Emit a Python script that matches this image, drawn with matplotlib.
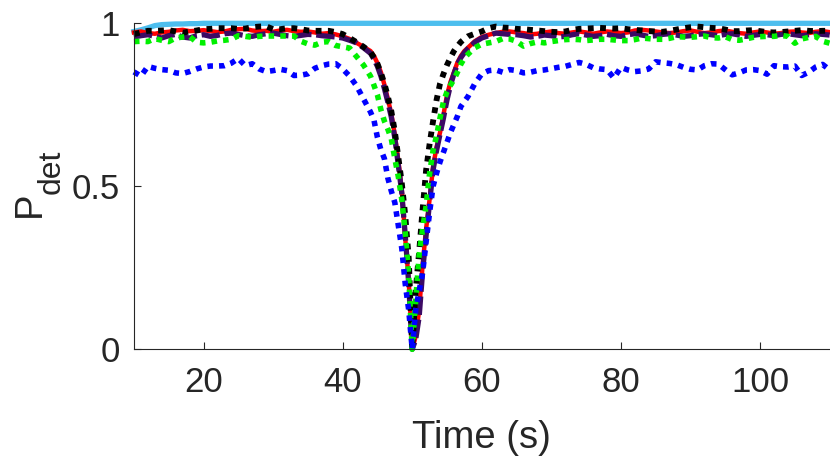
import numpy as np
import matplotlib
matplotlib.use("Agg")
import matplotlib.pyplot as plt

plt.rcParams['font.family'] = ['Liberation Sans', 'DejaVu Sans']

# time axis: 1 s steps, 0.5 s steps around the dip
time = np.concatenate([np.arange(10, 44), np.arange(44, 58, 0.5), np.arange(58, 111)])

# DATA ########################################################################

light_blue = [0.975, 0.980, 0.986, 0.993, 0.996, 0.997, 0.998, 0.998, 0.999, 0.999,
              1.0, 1.0, 1.0, 1.0, 1.0, 1.0, 1.0, 1.0, 1.0, 1.0, 1.0, 1.0, 1.0, 1.0,
              1.0, 1.0, 1.0, 1.0, 1.0, 1.0, 1.0, 1.0, 1.0, 1.0,
              # dip
              1.0, 1.0, 1.0, 1.0, 1.0, 1.0, 1.0, 1.0, 1.0, 1.0, 1.0, 1.0, 1.0, 1.0,
              1.0, 1.0, 1.0, 1.0, 1.0, 1.0, 1.0, 1.0, 1.0, 1.0, 1.0, 1.0, 1.0, 1.0,
              # right
              1.0, 1.0, 1.0, 1.0, 1.0, 1.0, 1.0, 1.0, 1.0, 1.0, 1.0, 1.0, 1.0, 1.0,
              1.0, 1.0, 1.0, 1.0, 1.0, 1.0, 1.0, 1.0, 1.0, 1.0, 1.0, 1.0, 1.0, 1.0,
              1.0, 1.0, 1.0, 1.0, 1.0, 1.0, 1.0, 1.0, 1.0, 1.0, 1.0, 1.0, 1.0, 1.0,
              1.0, 1.0, 1.0, 1.0, 1.0, 1.0, 1.0, 1.0, 1.0, 1.0, 1.0]

red = [0.972, 0.975, 0.970, 0.968, 0.972, 0.974, 0.978, 0.980, 0.976, 0.977,
       0.979, 0.976, 0.973, 0.975, 0.980, 0.982, 0.983, 0.978, 0.976, 0.977,
       0.974, 0.978, 0.980, 0.976, 0.974, 0.975, 0.972, 0.968, 0.970, 0.966,
       0.960, 0.952, 0.940, 0.928,
       # dip
       0.915, 0.900, 0.878, 0.850, 0.812, 0.768, 0.722, 0.658, 0.580, 0.490,
       0.340, 0.210, 0.0, 0.040, 0.120, 0.260, 0.370, 0.460, 0.560, 0.620,
       0.665, 0.720, 0.780, 0.820, 0.850, 0.880, 0.900, 0.915,
       # right
       0.925, 0.945, 0.958, 0.965, 0.970, 0.974, 0.975, 0.972, 0.970, 0.966,
       0.968, 0.972, 0.975, 0.970, 0.968, 0.972, 0.975, 0.972, 0.968, 0.972,
       0.975, 0.973, 0.970, 0.972, 0.978, 0.980, 0.978, 0.975, 0.972, 0.970,
       0.972, 0.976, 0.978, 0.974, 0.970, 0.972, 0.976, 0.978, 0.974, 0.970,
       0.968, 0.972, 0.975, 0.972, 0.968, 0.970, 0.974, 0.975, 0.972, 0.970,
       0.974, 0.976, 0.973]

purple = [0.958, 0.962, 0.965, 0.960, 0.955, 0.962, 0.966, 0.958, 0.955, 0.962,
          0.965, 0.960, 0.963, 0.968, 0.970, 0.966, 0.962, 0.960, 0.965, 0.968,
          0.970, 0.966, 0.962, 0.960, 0.963, 0.966, 0.965, 0.962, 0.960, 0.958,
          0.955, 0.948, 0.940, 0.925,
          # dip
          0.908, 0.890, 0.868, 0.838, 0.800, 0.758, 0.712, 0.648, 0.565, 0.480,
          0.350, 0.200, 0.0, 0.030, 0.100, 0.240, 0.350, 0.450, 0.550, 0.610,
          0.660, 0.710, 0.765, 0.810, 0.845, 0.875, 0.895, 0.910,
          # right
          0.922, 0.942, 0.955, 0.962, 0.970, 0.968, 0.966, 0.965, 0.962, 0.958,
          0.960, 0.964, 0.962, 0.958, 0.960, 0.965, 0.968, 0.964, 0.960, 0.962,
          0.966, 0.962, 0.960, 0.965, 0.968, 0.964, 0.960, 0.962, 0.966, 0.968,
          0.964, 0.960, 0.962, 0.966, 0.968, 0.965, 0.962, 0.966, 0.968, 0.964,
          0.960, 0.963, 0.966, 0.965, 0.962, 0.966, 0.968, 0.965, 0.962, 0.965,
          0.968, 0.966, 0.964]

black = [0.967, 0.972, 0.977, 0.977, 0.978, 0.979, 0.975, 0.971, 0.975, 0.978,
         0.982, 0.983, 0.985, 0.985, 0.985, 0.983, 0.984, 0.988, 0.990, 0.991,
         0.982, 0.982, 0.985, 0.985, 0.982, 0.978, 0.977, 0.977, 0.977, 0.973,
         0.967, 0.955, 0.942, 0.928,
         # dip
         0.912, 0.895, 0.876, 0.848, 0.815, 0.775, 0.730, 0.668, 0.590, 0.510,
         0.410, 0.280, 0.0, 0.180, 0.300, 0.430, 0.550, 0.630, 0.700, 0.765,
         0.815, 0.845, 0.872, 0.895, 0.915, 0.930, 0.943, 0.952,
         # right
         0.960, 0.968, 0.975, 0.985, 0.990, 0.987, 0.986, 0.983, 0.982, 0.980,
         0.978, 0.976, 0.974, 0.973, 0.975, 0.980, 0.983, 0.984, 0.985, 0.986,
         0.985, 0.984, 0.985, 0.982, 0.980, 0.978, 0.976, 0.975, 0.974, 0.977,
         0.981, 0.985, 0.988, 0.990, 0.988, 0.986, 0.985, 0.981, 0.976, 0.976,
         0.978, 0.979, 0.976, 0.973, 0.972, 0.973, 0.975, 0.977, 0.979, 0.977,
         0.976, 0.977, 0.977]

green = [0.944, 0.945, 0.944, 0.953, 0.948, 0.944, 0.955, 0.958, 0.960, 0.942,
         0.940, 0.942, 0.946, 0.948, 0.951, 0.962, 0.960, 0.957, 0.960, 0.961,
         0.961, 0.961, 0.961, 0.961, 0.945, 0.937, 0.933, 0.942, 0.944, 0.932,
         0.928, 0.924, 0.898, 0.872,
         # dip
         0.838, 0.810, 0.780, 0.735, 0.700, 0.675, 0.645, 0.585, 0.530, 0.460,
         0.360, 0.225, 0.0, 0.150, 0.290, 0.370, 0.440, 0.540, 0.610, 0.655,
         0.710, 0.760, 0.790, 0.810, 0.828, 0.850, 0.875, 0.893,
         # right
         0.905, 0.925, 0.936, 0.940, 0.944, 0.953, 0.952, 0.945, 0.930, 0.938,
         0.943, 0.940, 0.944, 0.947, 0.950, 0.951, 0.950, 0.947, 0.949, 0.951,
         0.951, 0.949, 0.947, 0.947, 0.950, 0.955, 0.953, 0.951, 0.951, 0.954,
         0.959, 0.958, 0.957, 0.959, 0.961, 0.956, 0.955, 0.959, 0.950, 0.948,
         0.952, 0.957, 0.959, 0.960, 0.960, 0.963, 0.960, 0.939, 0.952, 0.957,
         0.960, 0.945, 0.939]

blue = [0.851, 0.838, 0.868, 0.862, 0.858, 0.856, 0.848, 0.846, 0.852, 0.860,
        0.866, 0.869, 0.869, 0.870, 0.878, 0.892, 0.870, 0.876, 0.860, 0.852,
        0.855, 0.859, 0.855, 0.840, 0.841, 0.845, 0.862, 0.870, 0.875, 0.876,
        0.860, 0.838, 0.808, 0.768,
        # dip
        0.728, 0.703, 0.650, 0.612, 0.585, 0.525, 0.485, 0.450, 0.380, 0.310,
        0.200, 0.120, 0.0, 0.120, 0.180, 0.235, 0.330, 0.420, 0.500, 0.540,
        0.575, 0.605, 0.635, 0.665, 0.690, 0.715, 0.745, 0.760,
        # right
        0.775, 0.815, 0.845, 0.855, 0.857, 0.850, 0.858, 0.855, 0.848, 0.850,
        0.855, 0.857, 0.861, 0.865, 0.868, 0.874, 0.880, 0.874, 0.864, 0.860,
        0.858, 0.832, 0.865, 0.857, 0.852, 0.854, 0.860, 0.882, 0.879, 0.877,
        0.873, 0.865, 0.859, 0.857, 0.870, 0.876, 0.875, 0.858, 0.842, 0.848,
        0.857, 0.858, 0.855, 0.844, 0.870, 0.867, 0.866, 0.869, 0.840, 0.850,
        0.866, 0.874, 0.857]

x_ticks = [20, 40, 60, 80, 100]
y_ticks = [0, 0.5, 1]
y_tick_labels = ['0', '0.5', '1']

AXIS_COLOR = '#262626'
DOTTED = (0, (1, 1.1))
W, H = 830, 459


def main():

    fig = plt.figure(figsize=(W / 100, H / 100), dpi=100)
    ax = fig.add_axes([0.1614, 0.2390, 0.8381, 0.7102])

    # lines ###################################################################
    ax.plot(time, light_blue, color='#4dbeee', lw=3.8, clip_on=False)
    ax.plot(time, red, color='#ff0000', lw=3.2, clip_on=False)
    ax.plot(time, purple, color='#3c0a64', lw=3.8, ls=(0, (3.5, 0.9)), clip_on=False)
    ax.plot(time, black, color='#000000', lw=4.2, ls=DOTTED, clip_on=False)
    ax.plot(time, green, color='#00f000', lw=4.0, ls=DOTTED, clip_on=False)
    ax.plot(time, blue, color='#0000ff', lw=4.0, ls=DOTTED, clip_on=False)

    # axes ####################################################################
    ax.set_xlim(10, 110)
    ax.set_ylim(0, 1)
    ax.set_xticks(x_ticks)
    ax.set_yticks(y_ticks)
    ax.set_yticklabels(y_tick_labels)

    for side in ('top', 'right'):
        ax.spines[side].set_visible(False)
    for side in ('left', 'bottom'):
        ax.spines[side].set_color(AXIS_COLOR)
        ax.spines[side].set_linewidth(0.8)

    ax.tick_params(direction='in', length=5, width=0.8, colors=AXIS_COLOR,
                   labelsize=25)
    ax.tick_params(axis='x', pad=12)
    ax.tick_params(axis='y', pad=10)

    ax.set_xlabel('Time (s)', fontsize=27.5, color=AXIS_COLOR, labelpad=15)

    # y label: P with a large subscript, built from two texts
    fig.text(40 / W, 1 - 204 / H, 'P', fontsize=27.5, color=AXIS_COLOR,
             rotation=90, rotation_mode='anchor', ha='center', va='baseline')
    fig.text(60 / W, 1 - 172 / H, 'det', fontsize=23, color=AXIS_COLOR,
             rotation=90, rotation_mode='anchor', ha='center', va='baseline')

    fig.savefig('out.png', dpi=100)


if __name__ == "__main__":
    main()
